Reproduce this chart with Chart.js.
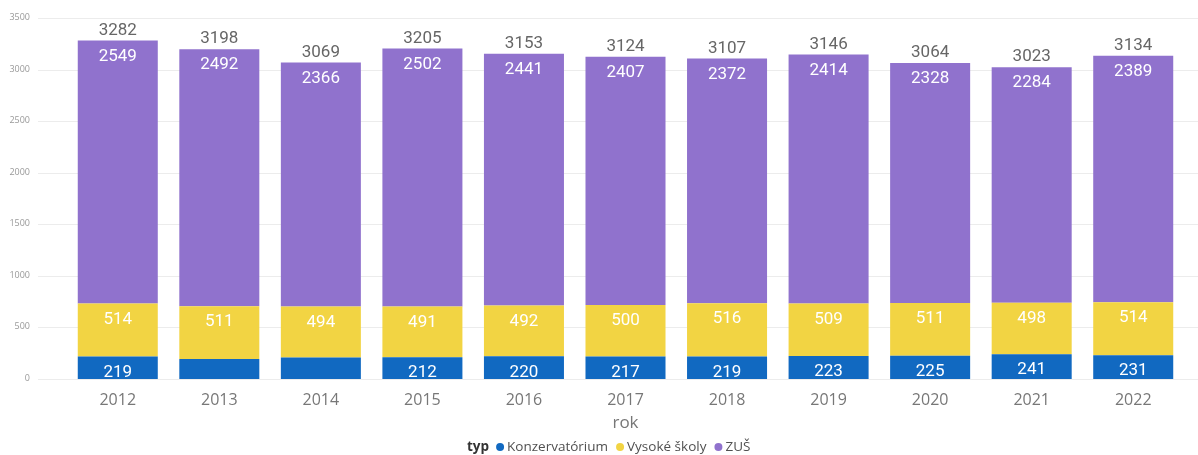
<!DOCTYPE html>
<html>
<head>
<meta charset="utf-8">
<script src="https://cdn.jsdelivr.net/npm/chart.js"></script>
<style>
  html, body { margin: 0; padding: 0; background: #fff; }
  #wrap { width: 1198px; height: 455px; }
</style>
</head>
<body>
<div id="wrap"><canvas id="myChart" width="1198" height="455"></canvas></div>
<script>
// data
const years = ['2012', '2013', '2014', '2015', '2016', '2017', '2018', '2019', '2020', '2021', '2022'];
const konzervatorium = [219, 195, 209, 212, 220, 217, 219, 223, 225, 241, 231];
const vysokeSkoly = [514, 511, 494, 491, 492, 500, 516, 509, 511, 498, 514];
const zus = [2549, 2492, 2366, 2502, 2441, 2407, 2372, 2414, 2328, 2284, 2389];
const yTicks = [0, 500, 1000, 1500, 2000, 2500, 3000, 3500];
// segments whose value label is not shown in the reference
const hiddenKonzLabels = ['2013', '2014'];

const colors = ['#1169C1', '#F2D443', '#9072CD'];
const numFont = '17px Roboto';

// horizontal gridlines + y labels, drawn by hand so they run wider than the bars
const gridPlugin = {
  id: 'grid',
  beforeDatasetsDraw(chart) {
    const ctx = chart.ctx;
    const y = chart.scales.y;
    ctx.save();
    ctx.strokeStyle = '#ececec';
    ctx.lineWidth = 1;
    ctx.font = '9px "Open Sans"';
    ctx.fillStyle = '#999999';
    ctx.textAlign = 'right';
    ctx.textBaseline = 'middle';
    yTicks.forEach(function (v) {
      const py = Math.round(y.getPixelForValue(v)) + 0.5;
      ctx.beginPath();
      ctx.moveTo(38, py);
      ctx.lineTo(chart.width, py);
      ctx.stroke();
      ctx.fillText(String(v), 30, py - 1);
    });
    ctx.restore();
  }
};

// value labels inside segments, totals above and the legend line at the bottom
const labelPlugin = {
  id: 'labels',
  afterDatasetsDraw(chart) {
    const ctx = chart.ctx;
    ctx.save();
    ctx.font = numFont;
    ctx.textAlign = 'center';
    ctx.textBaseline = 'middle';
    chart.data.datasets.forEach(function (ds, di) {
      const meta = chart.getDatasetMeta(di);
      meta.data.forEach(function (bar, i) {
        if (di === 0 && hiddenKonzLabels.indexOf(years[i]) >= 0) return;
        ctx.fillStyle = '#ffffff';
        ctx.fillText(String(ds.data[i]), bar.x, bar.y + 16);
      });
    });
    const top = chart.getDatasetMeta(chart.data.datasets.length - 1);
    top.data.forEach(function (bar, i) {
      const total = konzervatorium[i] + vysokeSkoly[i] + zus[i];
      ctx.fillStyle = '#666666';
      ctx.fillText(String(total), bar.x, bar.y - 10);
    });

    // legend
    const ly = 447;
    ctx.textAlign = 'left';
    ctx.font = 'bold 13.5px "Open Sans"';
    ctx.fillStyle = '#333333';
    let x = 467;
    ctx.fillText('typ', x, ly);
    x += ctx.measureText('typ').width + 7;
    ctx.font = '13.5px "Open Sans"';
    chart.data.datasets.forEach(function (ds) {
      ctx.fillStyle = ds.backgroundColor;
      ctx.beginPath();
      ctx.arc(x + 4, ly, 4, 0, Math.PI * 2);
      ctx.fill();
      x += 11;
      ctx.fillStyle = '#505050';
      ctx.fillText(ds.label, x, ly);
      x += ctx.measureText(ds.label).width + 8;
    });
    ctx.restore();
  }
};

const ctx = document.getElementById('myChart').getContext('2d');
new Chart(ctx, {
  type: 'bar',
  data: {
    labels: years,
    datasets: [
      { label: 'Konzervatórium', data: konzervatorium, backgroundColor: colors[0] },
      { label: 'Vysoké školy', data: vysokeSkoly, backgroundColor: colors[1] },
      { label: 'ZUŠ', data: zus, backgroundColor: colors[2] }
    ]
  },
  options: {
    responsive: false,
    animation: false,
    layout: { padding: { top: 18, right: 14, bottom: 20, left: 0 } },
    datasets: {
      bar: { barPercentage: 0.788, categoryPercentage: 1, borderWidth: 0 }
    },
    plugins: {
      legend: { display: false },
      tooltip: { enabled: false }
    },
    scales: {
      x: {
        stacked: true,
        grid: { display: false },
        border: { display: false },
        ticks: { color: '#777777', font: { family: 'Open Sans', size: 16 }, padding: 4 },
        title: {
          display: true,
          text: 'rok',
          color: '#777777',
          font: { family: 'Open Sans', size: 17 },
          padding: { top: 2, bottom: 2 }
        },
        afterFit(scale) { scale.height = 56; }
      },
      y: {
        stacked: true,
        min: 0,
        max: 3500,
        grid: { display: false, drawTicks: false },
        border: { display: false },
        ticks: { display: false, stepSize: 500, padding: 0 },
        afterFit(scale) { scale.width = 67; }
      }
    }
  },
  plugins: [gridPlugin, labelPlugin]
});
</script>
</body>
</html>
